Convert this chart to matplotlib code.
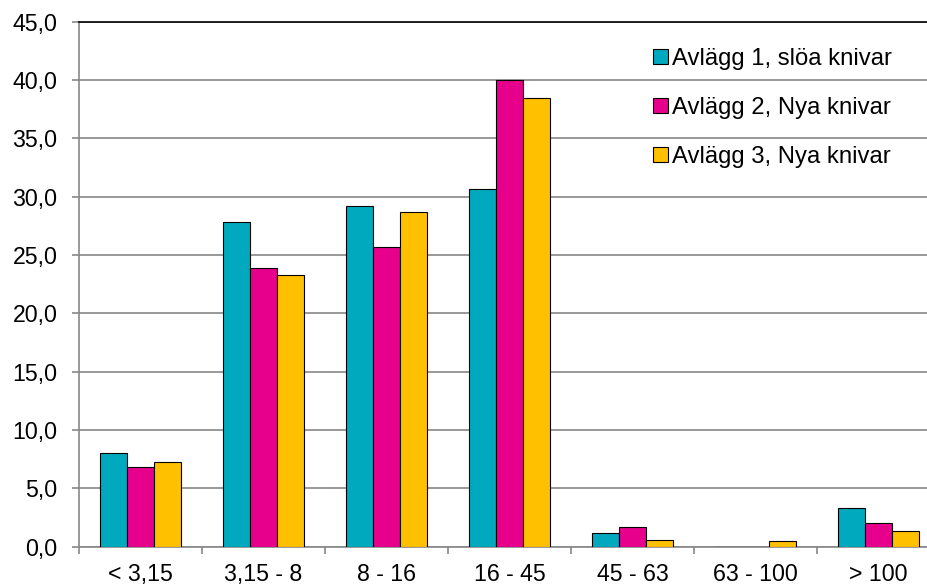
import matplotlib
matplotlib.use("Agg")
import matplotlib.pyplot as plt
import numpy as np

plt.rcParams['font.family'] = ['Liberation Sans', 'DejaVu Sans']

categories = ["< 3,15", "3,15 - 8", "8 - 16", "16 - 45", "45 - 63", "63 - 100", "> 100"]
avlagg1 = [8.0, 27.8, 29.2, 30.7, 1.2, 0.0, 3.3]
avlagg2 = [6.85, 23.9, 25.7, 40.0, 1.65, 0.0, 2.05]
avlagg3 = [7.25, 23.3, 28.7, 38.5, 0.55, 0.45, 1.35]
labels = ["Avlägg 1, slöa knivar", "Avlägg 2, Nya knivar", "Avlägg 3, Nya knivar"]
colors = ["#00A9BD", "#E6008C", "#FFC000"]

fs = 16.7

fig = plt.figure(figsize=(9.27, 5.85), dpi=100)
ax = fig.add_axes([79 / 927, (585 - 546.7) / 585, 861 / 927, 525 / 585])

x = np.arange(len(categories))
w = 0.222
for i, vals in enumerate([avlagg1, avlagg2, avlagg3]):
    ax.bar(x + (i - 1) * w, vals, w, color=colors[i], edgecolor="black",
           linewidth=0.8, label=labels[i], zorder=3)

ax.set_xlim(-0.5, len(categories) - 0.5)
ax.set_ylim(0, 45)
ax.set_yticks(np.arange(0, 46, 5))
ax.set_yticklabels([f"{v:.1f}".replace(".", ",") for v in np.arange(0, 46, 5)])
ax.yaxis.grid(True, color="#878787", linewidth=1.2, zorder=0)

ax.set_xticks(x)
ax.set_xticklabels(categories)
ax.set_xticks(np.arange(-0.5, len(categories), 1), minor=True)
ax.tick_params(axis="x", which="major", length=0, pad=11.5, labelsize=fs)
ax.tick_params(axis="x", which="minor", length=5, width=1.2, color="#878787")
ax.tick_params(axis="y", length=5, width=1.2, color="#878787", pad=10.5, labelsize=fs)

for s in ["left", "bottom"]:
    ax.spines[s].set_color("#878787")
    ax.spines[s].set_linewidth(1.2)
ax.spines["top"].set_color("black")
ax.spines["top"].set_linewidth(1.2)
ax.spines["right"].set_visible(False)

leg = ax.legend(loc="upper left", bbox_to_anchor=(0.656, 0.968), frameon=False,
                fontsize=17.2, handlelength=0.6, handleheight=0.6,
                handletextpad=0.17, labelspacing=1.12, borderaxespad=0)

fig.savefig("out.png", dpi=100)
